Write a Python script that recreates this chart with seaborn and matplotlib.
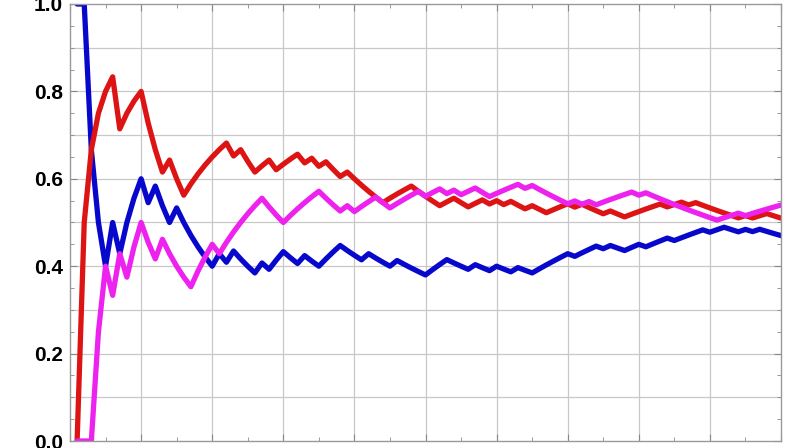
import numpy as np
import pandas as pd
import matplotlib
matplotlib.use("Agg")
import matplotlib.pyplot as plt
from matplotlib.ticker import MultipleLocator, FormatStrFormatter
import seaborn as sb

# coin flips (1 = head)
blue_flips = [1, 1, 0, 0, 0, 1, 0, 1, 1, 1,
              0, 1, 0, 0, 1, 0, 0, 0, 0, 0,
              1, 0, 1, 0, 0, 0, 1, 0, 1, 1,
              0, 0, 1, 0, 0, 1, 1, 1, 0, 0,
              0, 1, 0, 0, 0, 1, 0, 0, 0, 0,
              1, 1, 1, 0, 0, 0, 1, 0, 0, 1,
              0, 0, 1, 0, 0, 1, 1, 1, 1, 1,
              0, 1, 1, 1, 0, 1, 0, 0, 1, 1,
              0, 1, 1, 1, 0, 1, 1, 1, 1, 0,
              1, 1, 0, 0, 1, 0, 1, 0, 0, 0]
red_flips = [0, 1, 1, 1, 1, 1, 0, 1, 1, 1,
             0, 0, 0, 1, 0, 0, 1, 1, 1, 1,
             1, 1, 0, 1, 0, 0, 1, 1, 0, 1,
             1, 1, 0, 1, 0, 1, 0, 0, 1, 0,
             0, 0, 0, 0, 1, 1, 1, 1, 0, 0,
             0, 0, 1, 1, 0, 0, 1, 1, 0, 1,
             0, 1, 0, 0, 1, 0, 0, 1, 1, 1,
             0, 1, 0, 0, 0, 1, 0, 0, 1, 1,
             1, 1, 1, 0, 1, 1, 0, 1, 0, 0,
             0, 0, 0, 0, 1, 0, 1, 1, 0, 0]
magenta_flips = [0, 0, 0, 1, 1, 0, 1, 0, 1, 1,
                 0, 0, 1, 0, 0, 0, 0, 1, 1, 1,
                 0, 1, 1, 1, 1, 1, 1, 0, 0, 0,
                 1, 1, 1, 1, 1, 0, 0, 0, 1, 0,
                 1, 1, 1, 0, 0, 1, 1, 1, 1, 0,
                 1, 1, 0, 1, 0, 1, 1, 0, 0, 1,
                 1, 1, 1, 0, 1, 0, 0, 0, 0, 0,
                 1, 0, 1, 0, 1, 1, 1, 1, 1, 0,
                 1, 0, 0, 0, 0, 0, 0, 0, 0, 0,
                 0, 1, 1, 1, 0, 1, 1, 1, 1, 1]

series_names = ["blue", "red", "magenta"]
colours = {"blue": "#0808cc", "red": "#dd1414", "magenta": "#ee22ee"}

frames = []
for name, flips in zip(series_names, [blue_flips, red_flips, magenta_flips]):
    n = np.arange(1, len(flips) + 1)
    frames.append(pd.DataFrame({"n": n, "proportion": np.cumsum(flips) / n, "series": name}))
df = pd.concat(frames, ignore_index=True)

sb.set_style("white")
plt.rcParams["font.family"] = ["Liberation Sans", "DejaVu Sans"]

fig = plt.figure(figsize=(8, 4.48), dpi=100)
ax = fig.add_axes([70 / 800, 7 / 448, 711 / 800, 437 / 448])

# light grid every 10 flips and every 0.1
for gx in range(10, 100, 10):
    ax.axvline(gx, color="#c8c8c8", lw=0.9, zorder=0)
for gy in np.arange(0.1, 1.0, 0.1):
    ax.axhline(gy, color="#c8c8c8", lw=0.9, zorder=0)

sb.lineplot(data=df, x="n", y="proportion", hue="series", hue_order=series_names,
            palette=colours, lw=3.8, legend=False, estimator=None, ax=ax)

ax.set_xlim(0, 100)
ax.set_ylim(0, 1)
ax.set_xlabel("")
ax.set_ylabel("")
ax.xaxis.set_major_locator(MultipleLocator(10))
ax.xaxis.set_minor_locator(MultipleLocator(5))
ax.yaxis.set_major_locator(MultipleLocator(0.2))
ax.yaxis.set_minor_locator(MultipleLocator(0.05))
ax.yaxis.set_major_formatter(FormatStrFormatter("%.1f"))
ax.tick_params(which="both", direction="in", top=True, right=True, bottom=True, left=True,
               color="#888888", labelbottom=False)
ax.tick_params(which="major", length=5, width=0.8)
ax.tick_params(which="minor", length=3, width=0.6)
ax.tick_params(axis="y", labelsize=15, pad=5, labelcolor="black")
for lab in ax.get_yticklabels():
    lab.set_fontweight("bold")
for sp in ax.spines.values():
    sp.set_color("#999999")
    sp.set_linewidth(1.0)

fig.savefig("out.png", dpi=100, facecolor="white")
